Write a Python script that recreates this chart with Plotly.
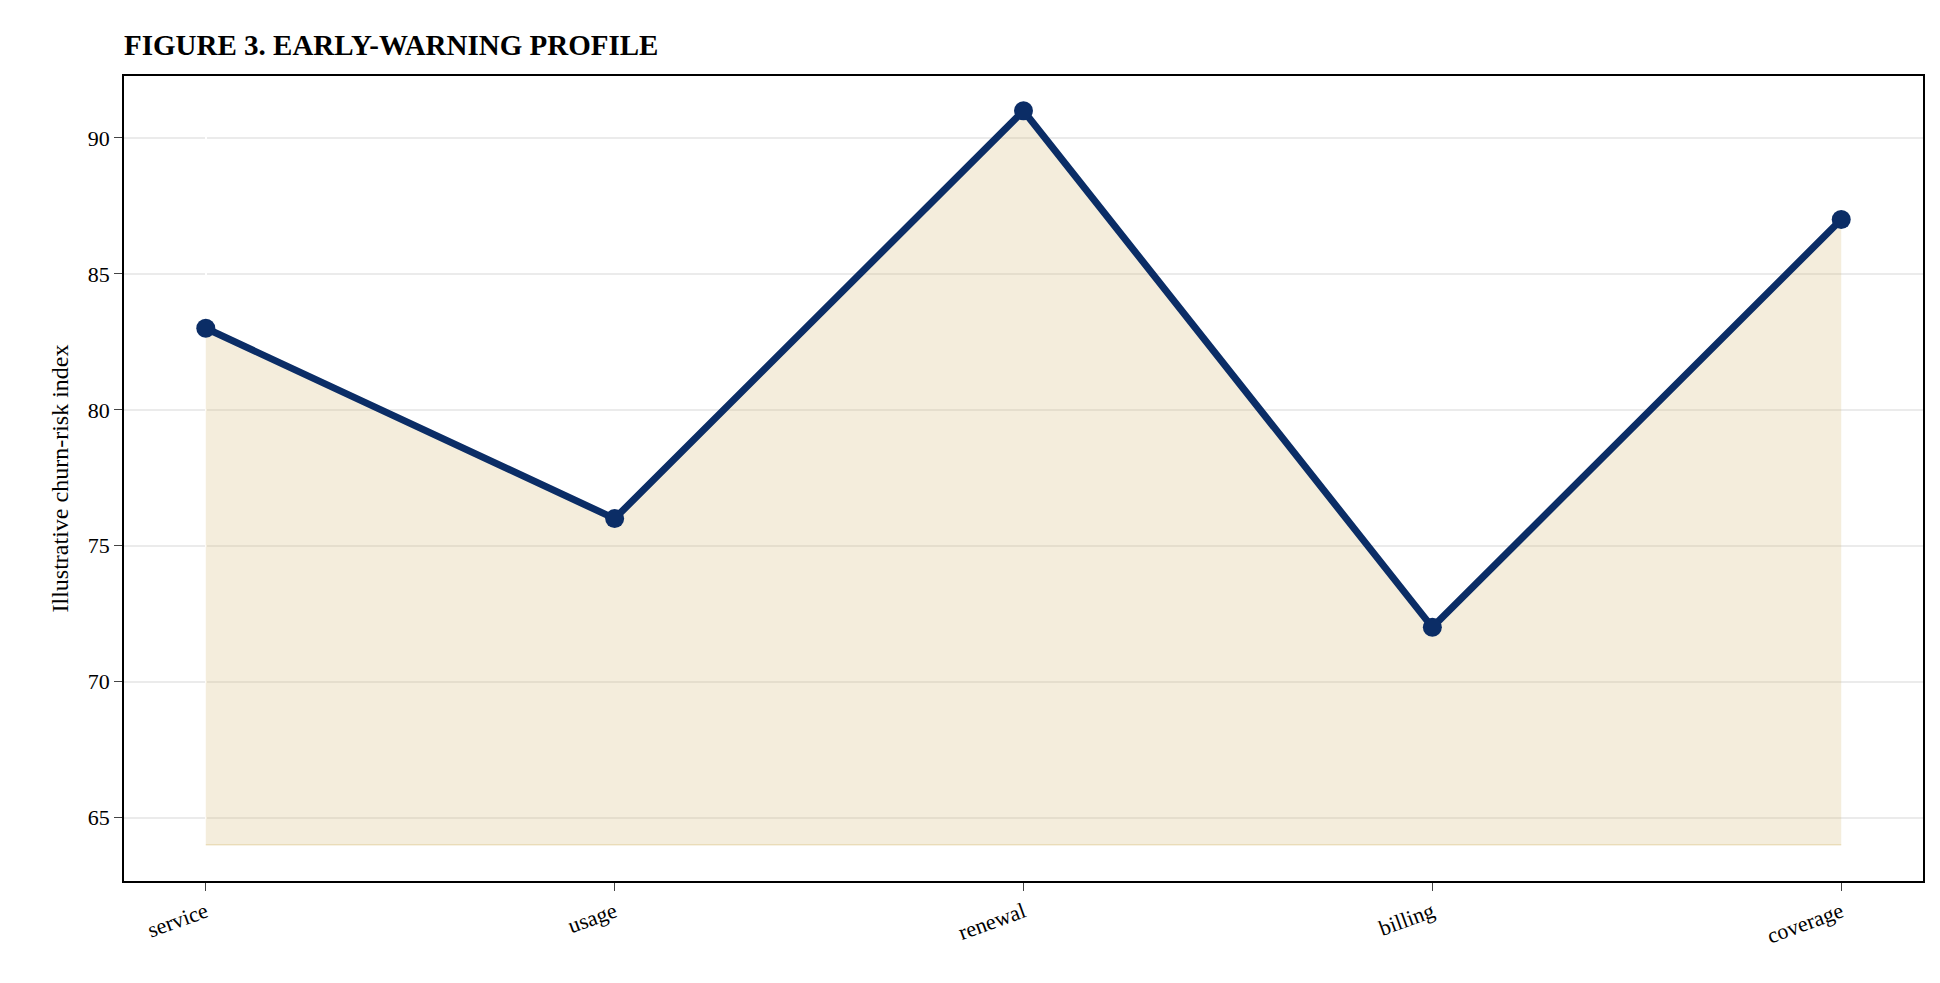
import plotly.graph_objects as go

categories = ["service", "usage", "renewal", "billing", "coverage"]
values = [83, 76, 91, 72, 87]
baseline = 64
yticks = [65, 70, 75, 80, 85, 90]

x = list(range(len(categories)))
fig = go.Figure()
fig.add_trace(go.Scatter(x=x, y=[baseline]*len(x), mode="lines",
                         line=dict(color="rgba(210,180,100,0.35)", width=1.5),
                         showlegend=False, hoverinfo="skip"))
fig.add_trace(go.Scatter(x=x, y=values, mode="lines", fill="tonexty",
                         fillcolor="rgba(215,190,130,0.28)",
                         line=dict(color="rgba(210,180,100,0.35)", width=1.5),
                         showlegend=False, hoverinfo="skip"))
fig.add_trace(go.Scatter(x=x, y=values, mode="lines+markers",
                         line=dict(color="#0b2d66", width=7),
                         marker=dict(color="#0b2d66", size=19),
                         showlegend=False))

fig.update_layout(
    width=1940, height=983, plot_bgcolor="white", paper_bgcolor="white",
    margin=dict(l=116, r=25, t=68, b=110),
    font=dict(family="Liberation Serif", size=22, color="black"),
    title=dict(text="<b>FIGURE 3. EARLY-WARNING PROFILE</b>", x=116/1940, xanchor="left",
               y=1-37/983, yanchor="middle", font=dict(size=29)),
)
fig.update_xaxes(tickvals=x, ticktext=categories, range=[-0.2, 4.2], tickangle=-20,
                 showgrid=False, showline=True, linecolor="black", linewidth=1.5, mirror=True,
                 ticks="outside", ticklen=8, tickfont=dict(size=22))
fig.update_yaxes(tickvals=yticks, range=[62.67, 92.28], showgrid=True,
                 gridcolor="rgba(0,0,0,0.08)", gridwidth=1.5, zeroline=False,
                 showline=True, linecolor="black", linewidth=1.5, mirror=True,
                 ticks="outside", ticklen=8, tickfont=dict(size=22),
                 title=dict(text="Illustrative churn-risk index", font=dict(size=24), standoff=12))
fig.write_html("out.html")
